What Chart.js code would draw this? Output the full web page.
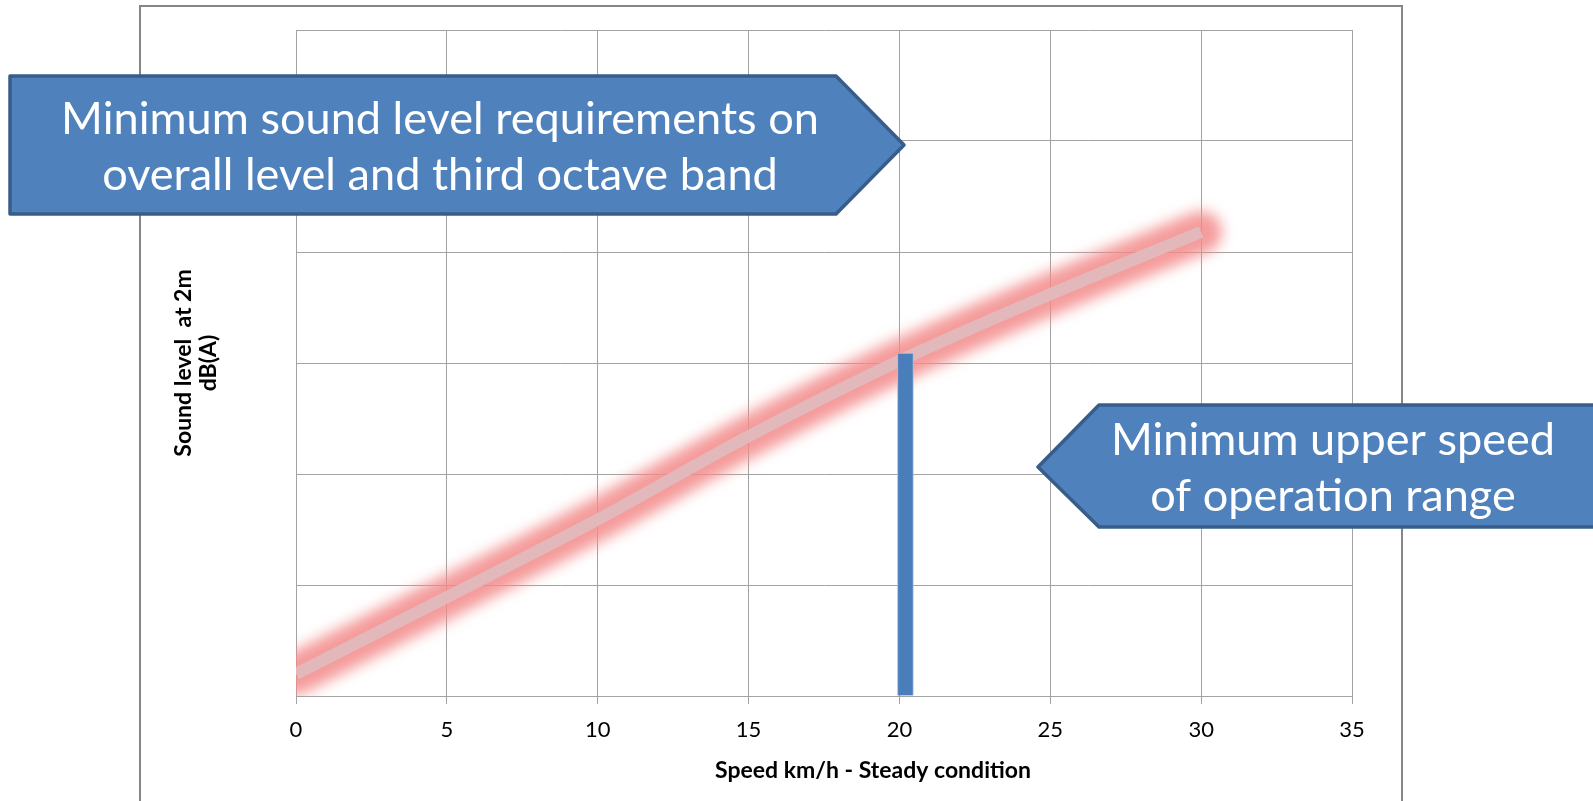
<!DOCTYPE html>
<html><head><meta charset="utf-8">
<script src="https://cdn.jsdelivr.net/npm/chart.js@4.4.1/dist/chart.umd.min.js"></script>
<style>html,body{margin:0;padding:0;background:#fff;overflow:hidden}canvas{display:block}</style>
</head><body>
<canvas id="c" width="1593" height="801"></canvas>
<script>
// ---- data ----
const speeds = [0, 5, 10, 15, 20, 25, 30];
const soundLevel = [2.0, 8.9, 15.9, 23.4, 30.2, 36.2, 41.8];
const upperSpeed = [20];
const upperSpeedLevel = [30.9];
const xTicks = [0, 5, 10, 15, 20, 25, 30, 35];
const yTicks = [0, 10, 20, 30, 40, 50, 60];
const xTitle = 'Speed km/h - Steady condition';
const yTitle = ['Sound level  at 2m', 'dB(A)'];
const calloutLeft = ['Minimum sound level requirements on', 'overall level and third octave band'];
const calloutRight = ['Minimum upper speed', 'of operation range'];

const GRID = '#a3a3a3';
const FONT = 'Lato, "Open Sans", sans-serif';

function drawCallout(ctx, pts, lines, cx, baselines, targetW) {
  ctx.save();
  ctx.beginPath();
  pts.forEach((p, i) => i ? ctx.lineTo(p[0], p[1]) : ctx.moveTo(p[0], p[1]));
  ctx.closePath();
  ctx.fillStyle = '#4f81bd';
  ctx.fill();
  ctx.lineWidth = 3.5;
  ctx.lineJoin = 'round';
  ctx.strokeStyle = '#385d8a';
  ctx.stroke();
  ctx.font = '100px ' + FONT;
  const w = ctx.measureText(lines[0]).width;
  const size = 100 * targetW / w;
  ctx.font = size.toFixed(2) + 'px ' + FONT;
  ctx.fillStyle = '#ffffff';
  ctx.textAlign = 'center';
  ctx.textBaseline = 'alphabetic';
  lines.forEach((t, i) => ctx.fillText(t, cx, baselines[i]));
  ctx.restore();
}

const decor = {
  id: 'decor',
  beforeDraw(chart) {
    const ctx = chart.ctx;
    ctx.save();
    ctx.fillStyle = '#fff';
    ctx.fillRect(0, 0, chart.width, chart.height);
    ctx.strokeStyle = '#868686';
    ctx.lineWidth = 2;
    ctx.strokeRect(140, 6, 1262, 900);
    ctx.restore();
  },
  beforeDatasetDraw(chart, args) {
    const ds = chart.data.datasets[args.index];
    chart.ctx.save();
    if (ds.glow) chart.ctx.filter = 'blur(7px)';
    if (ds.shiftX) chart.ctx.translate(ds.shiftX, 0);
  },
  afterDatasetDraw(chart) {
    chart.ctx.restore();
  },
  afterDraw(chart) {
    const ctx = chart.ctx;
    // x axis title
    ctx.save();
    ctx.font = 'bold 23px ' + FONT;
    ctx.fillStyle = '#000';
    ctx.textAlign = 'center';
    ctx.textBaseline = 'alphabetic';
    ctx.fillText(xTitle, 873, 778);
    ctx.restore();
    // callouts
    drawCallout(ctx, [[10, 76], [836, 76], [904, 145], [836, 214], [10, 214]],
      calloutLeft, 440, [134, 190], 758);
    drawCallout(ctx, [[1038, 467], [1099, 405], [1650, 405], [1650, 527], [1099, 527]],
      calloutRight, 1333, [455, 511], 444);
  }
};

function build() {
  new Chart(document.getElementById('c'), {
    type: 'line',
    data: {
      datasets: [
        {
          type: 'bar',
          label: 'Minimum upper speed',
          data: upperSpeed.map((x, i) => ({ x, y: upperSpeedLevel[i] })),
          backgroundColor: '#4a7ebb',
          borderColor: '#a9c3e3',
          borderWidth: 1,
          barThickness: 16,
          shiftX: 6
        },
        {
          label: 'Sound level',
          data: speeds.map((x, i) => ({ x, y: soundLevel[i] })),
          borderColor: '#e3b8ba',
          borderWidth: 12,
          borderCapStyle: 'butt',
          borderJoinStyle: 'round',
          cubicInterpolationMode: 'monotone',
          pointRadius: 0,
          clip: 0
        },
        {
          label: 'Sound level glow',
          glow: true,
          data: speeds.map((x, i) => ({ x, y: soundLevel[i] })),
          borderColor: 'rgba(243,138,138,0.85)',
          borderWidth: 42,
          borderCapStyle: 'round',
          borderJoinStyle: 'round',
          cubicInterpolationMode: 'monotone',
          pointRadius: 0,
          clip: 0
        }
      ]
    },
    options: {
      responsive: false,
      animation: false,
      events: [],
      layout: { padding: { top: 30, right: 241, left: 0, bottom: 0 } },
      plugins: { legend: { display: false }, tooltip: { enabled: false } },
      scales: {
        x: {
          type: 'linear',
          min: 0, max: 35,
          offset: false,
          afterBuildTicks: s => { s.ticks = xTicks.map(v => ({ value: v })); },
          afterFit: s => { s.height = 105; },
          grid: { color: GRID, lineWidth: 1, tickLength: 8, drawTicks: true, offset: false },
          border: { color: GRID, width: 1 },
          ticks: { color: '#000', font: { family: FONT, size: 22 }, padding: 13, maxRotation: 0 }
        },
        y: {
          type: 'linear',
          min: 0, max: 60,
          afterBuildTicks: s => { s.ticks = yTicks.map(v => ({ value: v })); },
          afterFit: s => { s.width = 296; },
          grid: { color: GRID, lineWidth: 1, drawTicks: false },
          border: { color: GRID, width: 1 },
          ticks: { display: false },
          title: {
            display: true, text: yTitle, color: '#000',
            font: { family: FONT, size: 23, weight: 'bold', lineHeight: 1.09 },
            padding: { top: 171, bottom: 0 }
          }
        }
      }
    },
    plugins: [decor]
  });
}

Promise.all([
  document.fonts.load('20px Lato'),
  document.fonts.load('bold 20px Lato')
]).then(build, build);
</script>
</body></html>
